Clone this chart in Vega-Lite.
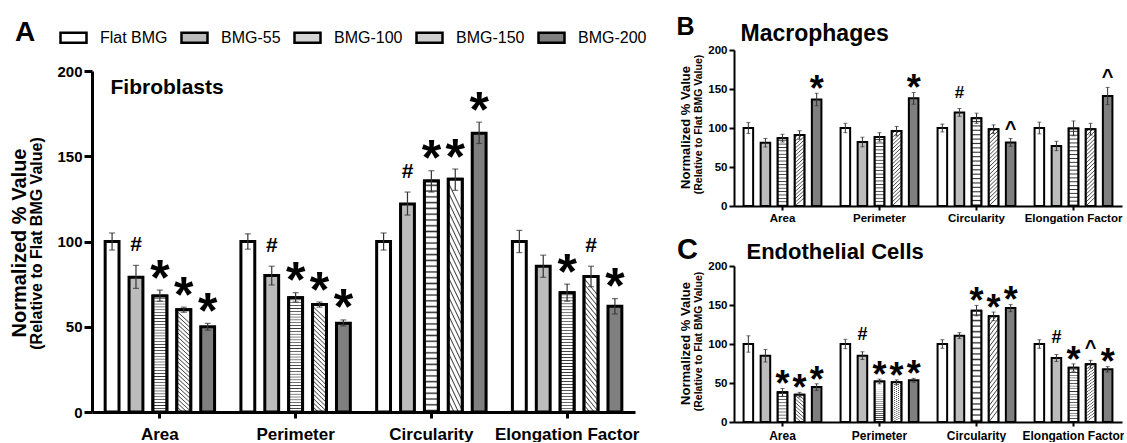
{
"$schema": "https://vega.github.io/schema/vega-lite/v6.json",
"padding": {"left": 9, "top": 14, "right": 0, "bottom": 0},
"background": "white",
"config": {"view": {"stroke": null}, "font": "Liberation Sans", "axis": {"labelFont": "Liberation Sans", "titleFont": "Liberation Sans", "grid": false}},
"datasets": {"d": [
{"p":"A","g":"Area","s":"Flat BMG","v":100,"lo":95,"hi":105,"sig":""},
{"p":"A","g":"Area","s":"BMG-55","v":79,"lo":72.5,"hi":86,"sig":"#"},
{"p":"A","g":"Area","s":"BMG-100","v":68,"lo":65,"hi":71.5,"sig":"*"},
{"p":"A","g":"Area","s":"BMG-150","v":60,"lo":58.5,"hi":61.5,"sig":"*"},
{"p":"A","g":"Area","s":"BMG-200","v":50,"lo":48,"hi":52,"sig":"*"},
{"p":"A","g":"Perimeter","s":"Flat BMG","v":100,"lo":95.5,"hi":104.5,"sig":""},
{"p":"A","g":"Perimeter","s":"BMG-55","v":80,"lo":74.5,"hi":85.5,"sig":"#"},
{"p":"A","g":"Perimeter","s":"BMG-100","v":67,"lo":64.5,"hi":70,"sig":"*"},
{"p":"A","g":"Perimeter","s":"BMG-150","v":63,"lo":61.5,"hi":64.5,"sig":"*"},
{"p":"A","g":"Perimeter","s":"BMG-200","v":52,"lo":50.5,"hi":54,"sig":"*"},
{"p":"A","g":"Circularity","s":"Flat BMG","v":100,"lo":95,"hi":105,"sig":""},
{"p":"A","g":"Circularity","s":"BMG-55","v":122,"lo":115.5,"hi":129,"sig":"#"},
{"p":"A","g":"Circularity","s":"BMG-100","v":135.5,"lo":129,"hi":141.5,"sig":"*"},
{"p":"A","g":"Circularity","s":"BMG-150","v":136.5,"lo":130,"hi":142.5,"sig":"*"},
{"p":"A","g":"Circularity","s":"BMG-200","v":163.5,"lo":157.5,"hi":170,"sig":"*"},
{"p":"A","g":"Elongation Factor","s":"Flat BMG","v":100,"lo":93.5,"hi":106.5,"sig":""},
{"p":"A","g":"Elongation Factor","s":"BMG-55","v":85.5,"lo":79,"hi":92,"sig":""},
{"p":"A","g":"Elongation Factor","s":"BMG-100","v":70,"lo":65,"hi":75,"sig":"*"},
{"p":"A","g":"Elongation Factor","s":"BMG-150","v":79.5,"lo":73.5,"hi":85.5,"sig":"#"},
{"p":"A","g":"Elongation Factor","s":"BMG-200","v":62,"lo":57.5,"hi":66.5,"sig":"*"},
{"p":"B","g":"Area","s":"Flat BMG","v":100,"lo":93,"hi":107,"sig":""},
{"p":"B","g":"Area","s":"BMG-55","v":81,"lo":75.5,"hi":86.5,"sig":""},
{"p":"B","g":"Area","s":"BMG-100","v":87,"lo":82,"hi":92,"sig":""},
{"p":"B","g":"Area","s":"BMG-150","v":91,"lo":85.5,"hi":96.5,"sig":""},
{"p":"B","g":"Area","s":"BMG-200","v":136.5,"lo":128.5,"hi":144.5,"sig":"*"},
{"p":"B","g":"Perimeter","s":"Flat BMG","v":100,"lo":94,"hi":106,"sig":""},
{"p":"B","g":"Perimeter","s":"BMG-55","v":82,"lo":76,"hi":88,"sig":""},
{"p":"B","g":"Perimeter","s":"BMG-100","v":88.5,"lo":83,"hi":94,"sig":""},
{"p":"B","g":"Perimeter","s":"BMG-150","v":96,"lo":90,"hi":102,"sig":""},
{"p":"B","g":"Perimeter","s":"BMG-200","v":138,"lo":130.5,"hi":145.5,"sig":"*"},
{"p":"B","g":"Circularity","s":"Flat BMG","v":100,"lo":95,"hi":105,"sig":""},
{"p":"B","g":"Circularity","s":"BMG-55","v":120,"lo":115,"hi":125,"sig":"#"},
{"p":"B","g":"Circularity","s":"BMG-100","v":112.5,"lo":106,"hi":119,"sig":""},
{"p":"B","g":"Circularity","s":"BMG-150","v":98.5,"lo":93,"hi":104,"sig":""},
{"p":"B","g":"Circularity","s":"BMG-200","v":81.5,"lo":76.5,"hi":86.5,"sig":"^"},
{"p":"B","g":"Elongation Factor","s":"Flat BMG","v":100,"lo":92.5,"hi":107.5,"sig":""},
{"p":"B","g":"Elongation Factor","s":"BMG-55","v":77,"lo":71,"hi":83,"sig":""},
{"p":"B","g":"Elongation Factor","s":"BMG-100","v":99.5,"lo":90,"hi":109,"sig":""},
{"p":"B","g":"Elongation Factor","s":"BMG-150","v":98.5,"lo":91,"hi":106,"sig":""},
{"p":"B","g":"Elongation Factor","s":"BMG-200","v":141,"lo":130,"hi":152,"sig":"^"},
{"p":"C","g":"Area","s":"Flat BMG","v":100,"lo":89.5,"hi":110.5,"sig":""},
{"p":"C","g":"Area","s":"BMG-55","v":85,"lo":77,"hi":93,"sig":""},
{"p":"C","g":"Area","s":"BMG-100","v":38,"lo":33,"hi":43,"sig":"*"},
{"p":"C","g":"Area","s":"BMG-150","v":35,"lo":32,"hi":38,"sig":"*"},
{"p":"C","g":"Area","s":"BMG-200","v":45,"lo":40.5,"hi":49,"sig":"*"},
{"p":"C","g":"Perimeter","s":"Flat BMG","v":100,"lo":94,"hi":106,"sig":""},
{"p":"C","g":"Perimeter","s":"BMG-55","v":85,"lo":80,"hi":90,"sig":"#"},
{"p":"C","g":"Perimeter","s":"BMG-100","v":52,"lo":49,"hi":55,"sig":"*"},
{"p":"C","g":"Perimeter","s":"BMG-150","v":51,"lo":48,"hi":54,"sig":"*"},
{"p":"C","g":"Perimeter","s":"BMG-200","v":53.5,"lo":51,"hi":56,"sig":"*"},
{"p":"C","g":"Circularity","s":"Flat BMG","v":100,"lo":94.5,"hi":105.5,"sig":""},
{"p":"C","g":"Circularity","s":"BMG-55","v":110.5,"lo":107,"hi":114.5,"sig":""},
{"p":"C","g":"Circularity","s":"BMG-100","v":142.5,"lo":136,"hi":149.5,"sig":"*"},
{"p":"C","g":"Circularity","s":"BMG-150","v":135.5,"lo":130,"hi":141,"sig":"*"},
{"p":"C","g":"Circularity","s":"BMG-200","v":146,"lo":141.5,"hi":150.5,"sig":"*"},
{"p":"C","g":"Elongation Factor","s":"Flat BMG","v":100,"lo":94.5,"hi":105.5,"sig":""},
{"p":"C","g":"Elongation Factor","s":"BMG-55","v":82,"lo":77.5,"hi":86.5,"sig":"#"},
{"p":"C","g":"Elongation Factor","s":"BMG-100","v":69.5,"lo":65,"hi":74.5,"sig":"*"},
{"p":"C","g":"Elongation Factor","s":"BMG-150","v":74,"lo":69,"hi":79,"sig":"^"},
{"p":"C","g":"Elongation Factor","s":"BMG-200","v":67.5,"lo":64,"hi":71,"sig":"*"}
]},
"bounds": "flush",
"spacing": 99,
"resolve": {"scale": {"fill": "independent", "xOffset": "independent"}, "legend": {"fill": "independent"}},
"hconcat": [
{
"width": 543, "height": 362,
"data": {"name": "d"},
"transform": [{"filter": "datum.p === 'A'"}],
"resolve": {"axis": {"y": "independent"}},
"layer": [
{"mark": {"type": "bar", "stroke": "black", "strokeWidth": 3},
 "encoding": {
  "x": {"field": "g", "type": "nominal", "title": null, "scale": {"domain": ["Area","Perimeter","Circularity","Elongation Factor"], "paddingInner": 0.12, "paddingOuter": 0.06}, "axis": {"labelAngle": 0, "labelFontSize": 17, "labelFontWeight": "bold", "labelColor": "black", "labelPadding": 8, "tickSize": 6, "tickWidth": 3, "tickColor": "black", "domainWidth": 3, "domainColor": "black"}},
  "xOffset": {"field": "s", "type": "nominal", "scale": {"domain": ["Flat BMG","BMG-55","BMG-100","BMG-150","BMG-200"], "paddingInner": 0.42, "paddingOuter": 0.21}},
  "y": {"field": "v", "type": "quantitative", "scale": {"domain": [0, 200], "range": [362, 21], "nice": false}, "axis": {"values": [0,50,100,150,200], "title": "(Relative to Flat  BMG Value)", "titleFontSize": 16, "titleFontWeight": "bold", "titleColor": "black", "titleX": -56, "titleY": 193, "titleAngle": -90, "titleAlign": "center", "titleBaseline": "middle", "labelFontSize": 15, "labelFontWeight": "bold", "labelColor": "black", "labelPadding": 2, "tickSize": 8, "tickWidth": 3, "tickColor": "black", "domainWidth": 3, "domainColor": "black"}},
  "fill": {"field": "s", "type": "nominal", "scale": {"domain": ["Flat BMG","BMG-55","BMG-100","BMG-150","BMG-200"], "range": ["#ffffff","#bcbcbc","#d4d4d4","#d0d0d0","#7f7f7f"]},
   "legend": {"orient": "none", "legendX": -33, "legendY": -27, "direction": "horizontal", "title": null, "symbolType": "M-1,-0.385H1V0.385H-1Z", "symbolSize": 676, "symbolStrokeColor": "black", "symbolStrokeWidth": 2.5, "symbolOpacity": 1, "labelFontSize": 16, "labelColor": "black", "labelFont": "Liberation Sans", "labelOffset": 12, "columnPadding": 8, "padding": 0}}
 }},
{"transform": [{"filter": "datum.s === 'BMG-100'"}],
 "mark": {"type": "bar", "stroke": "black", "strokeWidth": 3, "fill": {"gradient": "linear", "x1": 0, "y1": 0, "x2": 0, "y2": 1, "stops": [
{"offset":0,"color":"#fff"},{"offset":0.0125,"color":"#fff"},{"offset":0.01875,"color":"#333"},
{"offset":0.025,"color":"#fff"},{"offset":0.0375,"color":"#fff"},{"offset":0.04375,"color":"#333"},
{"offset":0.05,"color":"#fff"},{"offset":0.0625,"color":"#fff"},{"offset":0.06875,"color":"#333"},
{"offset":0.075,"color":"#fff"},{"offset":0.0875,"color":"#fff"},{"offset":0.09375,"color":"#333"},
{"offset":0.1,"color":"#fff"},{"offset":0.1125,"color":"#fff"},{"offset":0.11875,"color":"#333"},
{"offset":0.125,"color":"#fff"},{"offset":0.1375,"color":"#fff"},{"offset":0.14375,"color":"#333"},
{"offset":0.15,"color":"#fff"},{"offset":0.1625,"color":"#fff"},{"offset":0.16875,"color":"#333"},
{"offset":0.175,"color":"#fff"},{"offset":0.1875,"color":"#fff"},{"offset":0.19375,"color":"#333"},
{"offset":0.2,"color":"#fff"},{"offset":0.2125,"color":"#fff"},{"offset":0.21875,"color":"#333"},
{"offset":0.225,"color":"#fff"},{"offset":0.2375,"color":"#fff"},{"offset":0.24375,"color":"#333"},
{"offset":0.25,"color":"#fff"},{"offset":0.2625,"color":"#fff"},{"offset":0.26875,"color":"#333"},
{"offset":0.275,"color":"#fff"},{"offset":0.2875,"color":"#fff"},{"offset":0.29375,"color":"#333"},
{"offset":0.3,"color":"#fff"},{"offset":0.3125,"color":"#fff"},{"offset":0.31875,"color":"#333"},
{"offset":0.325,"color":"#fff"},{"offset":0.3375,"color":"#fff"},{"offset":0.34375,"color":"#333"},
{"offset":0.35,"color":"#fff"},{"offset":0.3625,"color":"#fff"},{"offset":0.36875,"color":"#333"},
{"offset":0.375,"color":"#fff"},{"offset":0.3875,"color":"#fff"},{"offset":0.39375,"color":"#333"},
{"offset":0.4,"color":"#fff"},{"offset":0.4125,"color":"#fff"},{"offset":0.41875,"color":"#333"},
{"offset":0.425,"color":"#fff"},{"offset":0.4375,"color":"#fff"},{"offset":0.44375,"color":"#333"},
{"offset":0.45,"color":"#fff"},{"offset":0.4625,"color":"#fff"},{"offset":0.46875,"color":"#333"},
{"offset":0.475,"color":"#fff"},{"offset":0.4875,"color":"#fff"},{"offset":0.49375,"color":"#333"},
{"offset":0.5,"color":"#fff"},{"offset":0.5125,"color":"#fff"},{"offset":0.51875,"color":"#333"},
{"offset":0.525,"color":"#fff"},{"offset":0.5375,"color":"#fff"},{"offset":0.54375,"color":"#333"},
{"offset":0.55,"color":"#fff"},{"offset":0.5625,"color":"#fff"},{"offset":0.56875,"color":"#333"},
{"offset":0.575,"color":"#fff"},{"offset":0.5875,"color":"#fff"},{"offset":0.59375,"color":"#333"},
{"offset":0.6,"color":"#fff"},{"offset":0.6125,"color":"#fff"},{"offset":0.61875,"color":"#333"},
{"offset":0.625,"color":"#fff"},{"offset":0.6375,"color":"#fff"},{"offset":0.64375,"color":"#333"},
{"offset":0.65,"color":"#fff"},{"offset":0.6625,"color":"#fff"},{"offset":0.66875,"color":"#333"},
{"offset":0.675,"color":"#fff"},{"offset":0.6875,"color":"#fff"},{"offset":0.69375,"color":"#333"},
{"offset":0.7,"color":"#fff"},{"offset":0.7125,"color":"#fff"},{"offset":0.71875,"color":"#333"},
{"offset":0.725,"color":"#fff"},{"offset":0.7375,"color":"#fff"},{"offset":0.74375,"color":"#333"},
{"offset":0.75,"color":"#fff"},{"offset":0.7625,"color":"#fff"},{"offset":0.76875,"color":"#333"},
{"offset":0.775,"color":"#fff"},{"offset":0.7875,"color":"#fff"},{"offset":0.79375,"color":"#333"},
{"offset":0.8,"color":"#fff"},{"offset":0.8125,"color":"#fff"},{"offset":0.81875,"color":"#333"},
{"offset":0.825,"color":"#fff"},{"offset":0.8375,"color":"#fff"},{"offset":0.84375,"color":"#333"},
{"offset":0.85,"color":"#fff"},{"offset":0.8625,"color":"#fff"},{"offset":0.86875,"color":"#333"},
{"offset":0.875,"color":"#fff"},{"offset":0.8875,"color":"#fff"},{"offset":0.89375,"color":"#333"},
{"offset":0.9,"color":"#fff"},{"offset":0.9125,"color":"#fff"},{"offset":0.91875,"color":"#333"},
{"offset":0.925,"color":"#fff"},{"offset":0.9375,"color":"#fff"},{"offset":0.94375,"color":"#333"},
{"offset":0.95,"color":"#fff"},{"offset":0.9625,"color":"#fff"},{"offset":0.96875,"color":"#333"},
{"offset":0.975,"color":"#fff"},{"offset":0.9875,"color":"#fff"},{"offset":0.99375,"color":"#333"},
{"offset":1,"color":"#fff"}]}},
 "encoding": {
  "x": {"field": "g", "type": "nominal", "title": null, "scale": {"domain": ["Area","Perimeter","Circularity","Elongation Factor"]}},
  "xOffset": {"field": "s", "type": "nominal", "scale": {"domain": ["Flat BMG","BMG-55","BMG-100","BMG-150","BMG-200"]}},
  "y": {"field": "v", "type": "quantitative", "axis": null}
 }},
{"transform": [{"filter": "datum.s === 'BMG-150'"}],
 "mark": {"type": "bar", "stroke": "black", "strokeWidth": 3, "fill": {"gradient": "linear", "x1": 0.125, "y1": 0, "x2": 0, "y2": 1, "stops": [
{"offset":0,"color":"#fff"},{"offset":0.02,"color":"#fff"},{"offset":0.03,"color":"#444"},
{"offset":0.04,"color":"#fff"},{"offset":0.06,"color":"#fff"},{"offset":0.07,"color":"#444"},
{"offset":0.08,"color":"#fff"},{"offset":0.1,"color":"#fff"},{"offset":0.11,"color":"#444"},
{"offset":0.12,"color":"#fff"},{"offset":0.14,"color":"#fff"},{"offset":0.15,"color":"#444"},
{"offset":0.16,"color":"#fff"},{"offset":0.18,"color":"#fff"},{"offset":0.19,"color":"#444"},
{"offset":0.2,"color":"#fff"},{"offset":0.22,"color":"#fff"},{"offset":0.23,"color":"#444"},
{"offset":0.24,"color":"#fff"},{"offset":0.26,"color":"#fff"},{"offset":0.27,"color":"#444"},
{"offset":0.28,"color":"#fff"},{"offset":0.3,"color":"#fff"},{"offset":0.31,"color":"#444"},
{"offset":0.32,"color":"#fff"},{"offset":0.34,"color":"#fff"},{"offset":0.35,"color":"#444"},
{"offset":0.36,"color":"#fff"},{"offset":0.38,"color":"#fff"},{"offset":0.39,"color":"#444"},
{"offset":0.4,"color":"#fff"},{"offset":0.42,"color":"#fff"},{"offset":0.43,"color":"#444"},
{"offset":0.44,"color":"#fff"},{"offset":0.46,"color":"#fff"},{"offset":0.47,"color":"#444"},
{"offset":0.48,"color":"#fff"},{"offset":0.5,"color":"#fff"},{"offset":0.51,"color":"#444"},
{"offset":0.52,"color":"#fff"},{"offset":0.54,"color":"#fff"},{"offset":0.55,"color":"#444"},
{"offset":0.56,"color":"#fff"},{"offset":0.58,"color":"#fff"},{"offset":0.59,"color":"#444"},
{"offset":0.6,"color":"#fff"},{"offset":0.62,"color":"#fff"},{"offset":0.63,"color":"#444"},
{"offset":0.64,"color":"#fff"},{"offset":0.66,"color":"#fff"},{"offset":0.67,"color":"#444"},
{"offset":0.68,"color":"#fff"},{"offset":0.7,"color":"#fff"},{"offset":0.71,"color":"#444"},
{"offset":0.72,"color":"#fff"},{"offset":0.74,"color":"#fff"},{"offset":0.75,"color":"#444"},
{"offset":0.76,"color":"#fff"},{"offset":0.78,"color":"#fff"},{"offset":0.79,"color":"#444"},
{"offset":0.8,"color":"#fff"},{"offset":0.82,"color":"#fff"},{"offset":0.83,"color":"#444"},
{"offset":0.84,"color":"#fff"},{"offset":0.86,"color":"#fff"},{"offset":0.87,"color":"#444"},
{"offset":0.88,"color":"#fff"},{"offset":0.9,"color":"#fff"},{"offset":0.91,"color":"#444"},
{"offset":0.92,"color":"#fff"},{"offset":0.94,"color":"#fff"},{"offset":0.95,"color":"#444"},
{"offset":0.96,"color":"#fff"},{"offset":0.98,"color":"#fff"},{"offset":0.99,"color":"#444"},
{"offset":1,"color":"#fff"}]}},
 "encoding": {
  "x": {"field": "g", "type": "nominal", "title": null, "scale": {"domain": ["Area","Perimeter","Circularity","Elongation Factor"]}},
  "xOffset": {"field": "s", "type": "nominal", "scale": {"domain": ["Flat BMG","BMG-55","BMG-100","BMG-150","BMG-200"]}},
  "y": {"field": "v", "type": "quantitative", "axis": null}
 }},
{"mark": {"type": "rule", "color": "#333", "strokeWidth": 1.2},
 "encoding": {
  "x": {"field": "g", "type": "nominal", "title": null, "scale": {"domain": ["Area","Perimeter","Circularity","Elongation Factor"]}},
  "xOffset": {"field": "s", "type": "nominal", "scale": {"domain": ["Flat BMG","BMG-55","BMG-100","BMG-150","BMG-200"]}},
  "y": {"field": "lo", "type": "quantitative", "axis": {"orient": "left", "title": "Fibroblasts", "labels": false, "ticks": false, "domain": false, "titleFontSize": 21, "titleFontWeight": "bold", "titleColor": "black", "titleX": 18, "titleY": 43, "titleAngle": 0, "titleAlign": "left", "titleBaseline": "alphabetic"}},
  "y2": {"field": "hi"}
 }},
{"mark": {"type": "tick", "color": "#333", "thickness": 1.2, "size": 6},
 "encoding": {
  "x": {"field": "g", "type": "nominal", "title": null, "scale": {"domain": ["Area","Perimeter","Circularity","Elongation Factor"]}},
  "xOffset": {"field": "s", "type": "nominal", "scale": {"domain": ["Flat BMG","BMG-55","BMG-100","BMG-150","BMG-200"]}},
  "y": {"field": "lo", "type": "quantitative", "axis": {"orient": "left", "title": "Normalized % Value", "labels": false, "ticks": false, "domain": false, "titleFontSize": 20, "titleFontWeight": "bold", "titleColor": "black", "titleX": -73, "titleY": 192.5, "titleAngle": -90, "titleAlign": "center", "titleBaseline": "middle"}}
 }},
{"mark": {"type": "tick", "color": "#333", "thickness": 1.2, "size": 6},
 "encoding": {
  "x": {"field": "g", "type": "nominal", "title": null, "scale": {"domain": ["Area","Perimeter","Circularity","Elongation Factor"]}},
  "xOffset": {"field": "s", "type": "nominal", "scale": {"domain": ["Flat BMG","BMG-55","BMG-100","BMG-150","BMG-200"]}},
  "y": {"field": "hi", "type": "quantitative", "axis": {"orient": "left", "title": "A", "labels": false, "ticks": false, "domain": false, "titleFontSize": 28, "titleFontWeight": "bold", "titleColor": "black", "titleX": -67.5, "titleY": -10, "titleAngle": 0, "titleAlign": "center", "titleBaseline": "alphabetic"}}
 }},
{"transform": [{"filter": "datum.sig === '*'"}],
 "mark": {"type": "text", "fontSize": 50, "fontWeight": "bold", "font": "Liberation Sans", "baseline": "alphabetic", "align": "center", "dy": 4.5, "color": "black"},
 "encoding": {
  "x": {"field": "g", "type": "nominal", "title": null, "scale": {"domain": ["Area","Perimeter","Circularity","Elongation Factor"]}},
  "xOffset": {"field": "s", "type": "nominal", "scale": {"domain": ["Flat BMG","BMG-55","BMG-100","BMG-150","BMG-200"]}},
  "y": {"field": "hi", "type": "quantitative", "axis": null},
  "text": {"field": "sig", "type": "nominal"}
 }},
{"transform": [{"filter": "datum.sig === '#'"}],
 "mark": {"type": "text", "fontSize": 21, "fontWeight": "bold", "font": "Liberation Sans", "baseline": "alphabetic", "align": "center", "dy": -14, "color": "black"},
 "encoding": {
  "x": {"field": "g", "type": "nominal", "title": null, "scale": {"domain": ["Area","Perimeter","Circularity","Elongation Factor"]}},
  "xOffset": {"field": "s", "type": "nominal", "scale": {"domain": ["Flat BMG","BMG-55","BMG-100","BMG-150","BMG-200"]}},
  "y": {"field": "hi", "type": "quantitative", "axis": null},
  "text": {"field": "sig", "type": "nominal"}
 }}
]
},
{
"vconcat": [
{
"width": 388, "height": 156,
"data": {"name": "d"},
"transform": [{"filter": "datum.p === 'B'"}],
"resolve": {"axis": {"y": "independent"}},
"layer": [
{"mark": {"type": "bar", "stroke": "black", "strokeWidth": 2},
 "encoding": {
  "x": {"field": "g", "type": "nominal", "title": null, "scale": {"domain": ["Area","Perimeter","Circularity","Elongation Factor"], "paddingInner": 0.12, "paddingOuter": 0.06}, "axis": {"labelAngle": 0, "labelFontSize": 11.5, "labelFontWeight": "bold", "labelColor": "black", "labelPadding": 2, "tickSize": 4, "tickWidth": 2, "tickColor": "black", "domainWidth": 2, "domainColor": "black"}},
  "xOffset": {"field": "s", "type": "nominal", "scale": {"domain": ["Flat BMG","BMG-55","BMG-100","BMG-150","BMG-200"], "paddingInner": 0.44, "paddingOuter": 0.22}},
  "y": {"field": "v", "type": "quantitative", "scale": {"domain": [0, 200], "nice": false}, "axis": {"values": [0,50,100,150,200], "title": "(Relative to Flat BMG Value)", "titleFontSize": 10.5, "titleFontWeight": "bold", "titleColor": "black", "titleX": -36, "titleY": 74, "titleAngle": -90, "titleAlign": "center", "titleBaseline": "middle", "labelFontSize": 11.5, "labelFontWeight": "bold", "labelColor": "black", "labelPadding": 2, "tickSize": 5, "tickWidth": 2, "tickColor": "black", "domainWidth": 2, "domainColor": "black"}},
  "fill": {"field": "s", "type": "nominal", "scale": {"domain": ["Flat BMG","BMG-55","BMG-100","BMG-150","BMG-200"], "range": ["#ffffff","#bcbcbc","#d4d4d4","#d0d0d0","#7f7f7f"]}, "legend": null}
 }},
{"transform": [{"filter": "datum.s === 'BMG-100'"}],
 "mark": {"type": "bar", "stroke": "black", "strokeWidth": 2, "fill": {"gradient": "linear", "x1": 0, "y1": 0, "x2": 0, "y2": 1, "stops": [
{"offset":0,"color":"#fff"},{"offset":0.025,"color":"#fff"},{"offset":0.0375,"color":"#333"},
{"offset":0.05,"color":"#fff"},{"offset":0.075,"color":"#fff"},{"offset":0.0875,"color":"#333"},
{"offset":0.1,"color":"#fff"},{"offset":0.125,"color":"#fff"},{"offset":0.1375,"color":"#333"},
{"offset":0.15,"color":"#fff"},{"offset":0.175,"color":"#fff"},{"offset":0.1875,"color":"#333"},
{"offset":0.2,"color":"#fff"},{"offset":0.225,"color":"#fff"},{"offset":0.2375,"color":"#333"},
{"offset":0.25,"color":"#fff"},{"offset":0.275,"color":"#fff"},{"offset":0.2875,"color":"#333"},
{"offset":0.3,"color":"#fff"},{"offset":0.325,"color":"#fff"},{"offset":0.3375,"color":"#333"},
{"offset":0.35,"color":"#fff"},{"offset":0.375,"color":"#fff"},{"offset":0.3875,"color":"#333"},
{"offset":0.4,"color":"#fff"},{"offset":0.425,"color":"#fff"},{"offset":0.4375,"color":"#333"},
{"offset":0.45,"color":"#fff"},{"offset":0.475,"color":"#fff"},{"offset":0.4875,"color":"#333"},
{"offset":0.5,"color":"#fff"},{"offset":0.525,"color":"#fff"},{"offset":0.5375,"color":"#333"},
{"offset":0.55,"color":"#fff"},{"offset":0.575,"color":"#fff"},{"offset":0.5875,"color":"#333"},
{"offset":0.6,"color":"#fff"},{"offset":0.625,"color":"#fff"},{"offset":0.6375,"color":"#333"},
{"offset":0.65,"color":"#fff"},{"offset":0.675,"color":"#fff"},{"offset":0.6875,"color":"#333"},
{"offset":0.7,"color":"#fff"},{"offset":0.725,"color":"#fff"},{"offset":0.7375,"color":"#333"},
{"offset":0.75,"color":"#fff"},{"offset":0.775,"color":"#fff"},{"offset":0.7875,"color":"#333"},
{"offset":0.8,"color":"#fff"},{"offset":0.825,"color":"#fff"},{"offset":0.8375,"color":"#333"},
{"offset":0.85,"color":"#fff"},{"offset":0.875,"color":"#fff"},{"offset":0.8875,"color":"#333"},
{"offset":0.9,"color":"#fff"},{"offset":0.925,"color":"#fff"},{"offset":0.9375,"color":"#333"},
{"offset":0.95,"color":"#fff"},{"offset":0.975,"color":"#fff"},{"offset":0.9875,"color":"#333"},
{"offset":1,"color":"#fff"}]}},
 "encoding": {
  "x": {"field": "g", "type": "nominal", "title": null, "scale": {"domain": ["Area","Perimeter","Circularity","Elongation Factor"]}},
  "xOffset": {"field": "s", "type": "nominal", "scale": {"domain": ["Flat BMG","BMG-55","BMG-100","BMG-150","BMG-200"]}},
  "y": {"field": "v", "type": "quantitative", "axis": null}
 }},
{"transform": [{"filter": "datum.s === 'BMG-150'"}],
 "mark": {"type": "bar", "stroke": "black", "strokeWidth": 2, "fill": {"gradient": "linear", "x1": 0, "y1": 0, "x2": 0.12, "y2": 1, "stops": [
{"offset":0,"color":"#fff"},{"offset":0.025,"color":"#fff"},{"offset":0.0375,"color":"#444"},
{"offset":0.05,"color":"#fff"},{"offset":0.075,"color":"#fff"},{"offset":0.0875,"color":"#444"},
{"offset":0.1,"color":"#fff"},{"offset":0.125,"color":"#fff"},{"offset":0.1375,"color":"#444"},
{"offset":0.15,"color":"#fff"},{"offset":0.175,"color":"#fff"},{"offset":0.1875,"color":"#444"},
{"offset":0.2,"color":"#fff"},{"offset":0.225,"color":"#fff"},{"offset":0.2375,"color":"#444"},
{"offset":0.25,"color":"#fff"},{"offset":0.275,"color":"#fff"},{"offset":0.2875,"color":"#444"},
{"offset":0.3,"color":"#fff"},{"offset":0.325,"color":"#fff"},{"offset":0.3375,"color":"#444"},
{"offset":0.35,"color":"#fff"},{"offset":0.375,"color":"#fff"},{"offset":0.3875,"color":"#444"},
{"offset":0.4,"color":"#fff"},{"offset":0.425,"color":"#fff"},{"offset":0.4375,"color":"#444"},
{"offset":0.45,"color":"#fff"},{"offset":0.475,"color":"#fff"},{"offset":0.4875,"color":"#444"},
{"offset":0.5,"color":"#fff"},{"offset":0.525,"color":"#fff"},{"offset":0.5375,"color":"#444"},
{"offset":0.55,"color":"#fff"},{"offset":0.575,"color":"#fff"},{"offset":0.5875,"color":"#444"},
{"offset":0.6,"color":"#fff"},{"offset":0.625,"color":"#fff"},{"offset":0.6375,"color":"#444"},
{"offset":0.65,"color":"#fff"},{"offset":0.675,"color":"#fff"},{"offset":0.6875,"color":"#444"},
{"offset":0.7,"color":"#fff"},{"offset":0.725,"color":"#fff"},{"offset":0.7375,"color":"#444"},
{"offset":0.75,"color":"#fff"},{"offset":0.775,"color":"#fff"},{"offset":0.7875,"color":"#444"},
{"offset":0.8,"color":"#fff"},{"offset":0.825,"color":"#fff"},{"offset":0.8375,"color":"#444"},
{"offset":0.85,"color":"#fff"},{"offset":0.875,"color":"#fff"},{"offset":0.8875,"color":"#444"},
{"offset":0.9,"color":"#fff"},{"offset":0.925,"color":"#fff"},{"offset":0.9375,"color":"#444"},
{"offset":0.95,"color":"#fff"},{"offset":0.975,"color":"#fff"},{"offset":0.9875,"color":"#444"},
{"offset":1,"color":"#fff"}]}},
 "encoding": {
  "x": {"field": "g", "type": "nominal", "title": null, "scale": {"domain": ["Area","Perimeter","Circularity","Elongation Factor"]}},
  "xOffset": {"field": "s", "type": "nominal", "scale": {"domain": ["Flat BMG","BMG-55","BMG-100","BMG-150","BMG-200"]}},
  "y": {"field": "v", "type": "quantitative", "axis": null}
 }},
{"mark": {"type": "rule", "color": "#333", "strokeWidth": 1},
 "encoding": {
  "x": {"field": "g", "type": "nominal", "title": null, "scale": {"domain": ["Area","Perimeter","Circularity","Elongation Factor"]}},
  "xOffset": {"field": "s", "type": "nominal", "scale": {"domain": ["Flat BMG","BMG-55","BMG-100","BMG-150","BMG-200"]}},
  "y": {"field": "lo", "type": "quantitative", "axis": {"orient": "left", "title": "Macrophages", "labels": false, "ticks": false, "domain": false, "titleFontSize": 23, "titleFontWeight": "bold", "titleColor": "black", "titleX": 6, "titleY": -10, "titleAngle": 0, "titleAlign": "left", "titleBaseline": "alphabetic"}},
  "y2": {"field": "hi"}
 }},
{"mark": {"type": "tick", "color": "#333", "thickness": 1, "size": 4},
 "encoding": {
  "x": {"field": "g", "type": "nominal", "title": null, "scale": {"domain": ["Area","Perimeter","Circularity","Elongation Factor"]}},
  "xOffset": {"field": "s", "type": "nominal", "scale": {"domain": ["Flat BMG","BMG-55","BMG-100","BMG-150","BMG-200"]}},
  "y": {"field": "lo", "type": "quantitative", "axis": {"orient": "left", "title": "Normalized % Value", "labels": false, "ticks": false, "domain": false, "titleFontSize": 13, "titleFontWeight": "bold", "titleColor": "black", "titleX": -49, "titleY": 77, "titleAngle": -90, "titleAlign": "center", "titleBaseline": "middle"}}
 }},
{"mark": {"type": "tick", "color": "#333", "thickness": 1, "size": 4},
 "encoding": {
  "x": {"field": "g", "type": "nominal", "title": null, "scale": {"domain": ["Area","Perimeter","Circularity","Elongation Factor"]}},
  "xOffset": {"field": "s", "type": "nominal", "scale": {"domain": ["Flat BMG","BMG-55","BMG-100","BMG-150","BMG-200"]}},
  "y": {"field": "hi", "type": "quantitative", "axis": {"orient": "left", "title": "B", "labels": false, "ticks": false, "domain": false, "titleFontSize": 25, "titleFontWeight": "bold", "titleColor": "black", "titleX": -49, "titleY": -16, "titleAngle": 0, "titleAlign": "center", "titleBaseline": "alphabetic"}}
 }},
{"transform": [{"filter": "datum.sig === '*'"}],
 "mark": {"type": "text", "fontSize": 36, "fontWeight": "bold", "font": "Liberation Sans", "baseline": "alphabetic", "align": "center", "dy": 7.8, "color": "black"},
 "encoding": {
  "x": {"field": "g", "type": "nominal", "title": null, "scale": {"domain": ["Area","Perimeter","Circularity","Elongation Factor"]}},
  "xOffset": {"field": "s", "type": "nominal", "scale": {"domain": ["Flat BMG","BMG-55","BMG-100","BMG-150","BMG-200"]}},
  "y": {"field": "hi", "type": "quantitative", "axis": null},
  "text": {"field": "sig", "type": "nominal"}
 }},
{"transform": [{"filter": "datum.sig === '#'"}],
 "mark": {"type": "text", "fontSize": 17, "fontWeight": "bold", "font": "Liberation Sans", "baseline": "alphabetic", "align": "center", "dy": -11, "color": "black"},
 "encoding": {
  "x": {"field": "g", "type": "nominal", "title": null, "scale": {"domain": ["Area","Perimeter","Circularity","Elongation Factor"]}},
  "xOffset": {"field": "s", "type": "nominal", "scale": {"domain": ["Flat BMG","BMG-55","BMG-100","BMG-150","BMG-200"]}},
  "y": {"field": "hi", "type": "quantitative", "axis": null},
  "text": {"field": "sig", "type": "nominal"}
 }},
{"transform": [{"filter": "datum.sig === '^'"}],
 "mark": {"type": "text", "fontSize": 20, "fontWeight": "bold", "font": "Liberation Sans", "baseline": "alphabetic", "align": "center", "dy": -4, "color": "black"},
 "encoding": {
  "x": {"field": "g", "type": "nominal", "title": null, "scale": {"domain": ["Area","Perimeter","Circularity","Elongation Factor"]}},
  "xOffset": {"field": "s", "type": "nominal", "scale": {"domain": ["Flat BMG","BMG-55","BMG-100","BMG-150","BMG-200"]}},
  "y": {"field": "hi", "type": "quantitative", "axis": null},
  "text": {"field": "sig", "type": "nominal"}
 }}
]
},
{
"width": 388, "height": 156,
"data": {"name": "d"},
"transform": [{"filter": "datum.p === 'C'"}],
"resolve": {"axis": {"y": "independent"}},
"layer": [
{"mark": {"type": "bar", "stroke": "black", "strokeWidth": 2},
 "encoding": {
  "x": {"field": "g", "type": "nominal", "title": null, "scale": {"domain": ["Area","Perimeter","Circularity","Elongation Factor"], "paddingInner": 0.12, "paddingOuter": 0.06}, "axis": {"labelAngle": 0, "labelFontSize": 12, "labelFontWeight": "bold", "labelColor": "black", "labelPadding": 4, "tickSize": 4, "tickWidth": 2, "tickColor": "black", "domainWidth": 2, "domainColor": "black"}},
  "xOffset": {"field": "s", "type": "nominal", "scale": {"domain": ["Flat BMG","BMG-55","BMG-100","BMG-150","BMG-200"], "paddingInner": 0.44, "paddingOuter": 0.22}},
  "y": {"field": "v", "type": "quantitative", "scale": {"domain": [0, 200], "nice": false}, "axis": {"values": [0,50,100,150,200], "title": "(Relative to Flat BMG Value)", "titleFontSize": 10.5, "titleFontWeight": "bold", "titleColor": "black", "titleX": -36, "titleY": 75, "titleAngle": -90, "titleAlign": "center", "titleBaseline": "middle", "labelFontSize": 11.5, "labelFontWeight": "bold", "labelColor": "black", "labelPadding": 2, "tickSize": 5, "tickWidth": 2, "tickColor": "black", "domainWidth": 2, "domainColor": "black"}},
  "fill": {"field": "s", "type": "nominal", "scale": {"domain": ["Flat BMG","BMG-55","BMG-100","BMG-150","BMG-200"], "range": ["#ffffff","#bcbcbc","#d4d4d4","#d0d0d0","#7f7f7f"]}, "legend": null}
 }},
{"transform": [{"filter": "datum.s === 'BMG-100'"}],
 "mark": {"type": "bar", "stroke": "black", "strokeWidth": 2, "fill": {"gradient": "linear", "x1": 0, "y1": 0, "x2": 0, "y2": 1, "stops": [
{"offset":0,"color":"#fff"},{"offset":0.025,"color":"#fff"},{"offset":0.0375,"color":"#333"},
{"offset":0.05,"color":"#fff"},{"offset":0.075,"color":"#fff"},{"offset":0.0875,"color":"#333"},
{"offset":0.1,"color":"#fff"},{"offset":0.125,"color":"#fff"},{"offset":0.1375,"color":"#333"},
{"offset":0.15,"color":"#fff"},{"offset":0.175,"color":"#fff"},{"offset":0.1875,"color":"#333"},
{"offset":0.2,"color":"#fff"},{"offset":0.225,"color":"#fff"},{"offset":0.2375,"color":"#333"},
{"offset":0.25,"color":"#fff"},{"offset":0.275,"color":"#fff"},{"offset":0.2875,"color":"#333"},
{"offset":0.3,"color":"#fff"},{"offset":0.325,"color":"#fff"},{"offset":0.3375,"color":"#333"},
{"offset":0.35,"color":"#fff"},{"offset":0.375,"color":"#fff"},{"offset":0.3875,"color":"#333"},
{"offset":0.4,"color":"#fff"},{"offset":0.425,"color":"#fff"},{"offset":0.4375,"color":"#333"},
{"offset":0.45,"color":"#fff"},{"offset":0.475,"color":"#fff"},{"offset":0.4875,"color":"#333"},
{"offset":0.5,"color":"#fff"},{"offset":0.525,"color":"#fff"},{"offset":0.5375,"color":"#333"},
{"offset":0.55,"color":"#fff"},{"offset":0.575,"color":"#fff"},{"offset":0.5875,"color":"#333"},
{"offset":0.6,"color":"#fff"},{"offset":0.625,"color":"#fff"},{"offset":0.6375,"color":"#333"},
{"offset":0.65,"color":"#fff"},{"offset":0.675,"color":"#fff"},{"offset":0.6875,"color":"#333"},
{"offset":0.7,"color":"#fff"},{"offset":0.725,"color":"#fff"},{"offset":0.7375,"color":"#333"},
{"offset":0.75,"color":"#fff"},{"offset":0.775,"color":"#fff"},{"offset":0.7875,"color":"#333"},
{"offset":0.8,"color":"#fff"},{"offset":0.825,"color":"#fff"},{"offset":0.8375,"color":"#333"},
{"offset":0.85,"color":"#fff"},{"offset":0.875,"color":"#fff"},{"offset":0.8875,"color":"#333"},
{"offset":0.9,"color":"#fff"},{"offset":0.925,"color":"#fff"},{"offset":0.9375,"color":"#333"},
{"offset":0.95,"color":"#fff"},{"offset":0.975,"color":"#fff"},{"offset":0.9875,"color":"#333"},
{"offset":1,"color":"#fff"}]}},
 "encoding": {
  "x": {"field": "g", "type": "nominal", "title": null, "scale": {"domain": ["Area","Perimeter","Circularity","Elongation Factor"]}},
  "xOffset": {"field": "s", "type": "nominal", "scale": {"domain": ["Flat BMG","BMG-55","BMG-100","BMG-150","BMG-200"]}},
  "y": {"field": "v", "type": "quantitative", "axis": null}
 }},
{"transform": [{"filter": "datum.s === 'BMG-150'"}],
 "mark": {"type": "bar", "stroke": "black", "strokeWidth": 2, "fill": {"gradient": "linear", "x1": 0, "y1": 0, "x2": 0.12, "y2": 1, "stops": [
{"offset":0,"color":"#fff"},{"offset":0.025,"color":"#fff"},{"offset":0.0375,"color":"#444"},
{"offset":0.05,"color":"#fff"},{"offset":0.075,"color":"#fff"},{"offset":0.0875,"color":"#444"},
{"offset":0.1,"color":"#fff"},{"offset":0.125,"color":"#fff"},{"offset":0.1375,"color":"#444"},
{"offset":0.15,"color":"#fff"},{"offset":0.175,"color":"#fff"},{"offset":0.1875,"color":"#444"},
{"offset":0.2,"color":"#fff"},{"offset":0.225,"color":"#fff"},{"offset":0.2375,"color":"#444"},
{"offset":0.25,"color":"#fff"},{"offset":0.275,"color":"#fff"},{"offset":0.2875,"color":"#444"},
{"offset":0.3,"color":"#fff"},{"offset":0.325,"color":"#fff"},{"offset":0.3375,"color":"#444"},
{"offset":0.35,"color":"#fff"},{"offset":0.375,"color":"#fff"},{"offset":0.3875,"color":"#444"},
{"offset":0.4,"color":"#fff"},{"offset":0.425,"color":"#fff"},{"offset":0.4375,"color":"#444"},
{"offset":0.45,"color":"#fff"},{"offset":0.475,"color":"#fff"},{"offset":0.4875,"color":"#444"},
{"offset":0.5,"color":"#fff"},{"offset":0.525,"color":"#fff"},{"offset":0.5375,"color":"#444"},
{"offset":0.55,"color":"#fff"},{"offset":0.575,"color":"#fff"},{"offset":0.5875,"color":"#444"},
{"offset":0.6,"color":"#fff"},{"offset":0.625,"color":"#fff"},{"offset":0.6375,"color":"#444"},
{"offset":0.65,"color":"#fff"},{"offset":0.675,"color":"#fff"},{"offset":0.6875,"color":"#444"},
{"offset":0.7,"color":"#fff"},{"offset":0.725,"color":"#fff"},{"offset":0.7375,"color":"#444"},
{"offset":0.75,"color":"#fff"},{"offset":0.775,"color":"#fff"},{"offset":0.7875,"color":"#444"},
{"offset":0.8,"color":"#fff"},{"offset":0.825,"color":"#fff"},{"offset":0.8375,"color":"#444"},
{"offset":0.85,"color":"#fff"},{"offset":0.875,"color":"#fff"},{"offset":0.8875,"color":"#444"},
{"offset":0.9,"color":"#fff"},{"offset":0.925,"color":"#fff"},{"offset":0.9375,"color":"#444"},
{"offset":0.95,"color":"#fff"},{"offset":0.975,"color":"#fff"},{"offset":0.9875,"color":"#444"},
{"offset":1,"color":"#fff"}]}},
 "encoding": {
  "x": {"field": "g", "type": "nominal", "title": null, "scale": {"domain": ["Area","Perimeter","Circularity","Elongation Factor"]}},
  "xOffset": {"field": "s", "type": "nominal", "scale": {"domain": ["Flat BMG","BMG-55","BMG-100","BMG-150","BMG-200"]}},
  "y": {"field": "v", "type": "quantitative", "axis": null}
 }},
{"mark": {"type": "rule", "color": "#333", "strokeWidth": 1},
 "encoding": {
  "x": {"field": "g", "type": "nominal", "title": null, "scale": {"domain": ["Area","Perimeter","Circularity","Elongation Factor"]}},
  "xOffset": {"field": "s", "type": "nominal", "scale": {"domain": ["Flat BMG","BMG-55","BMG-100","BMG-150","BMG-200"]}},
  "y": {"field": "lo", "type": "quantitative", "axis": {"orient": "left", "title": "Endothelial Cells", "labels": false, "ticks": false, "domain": false, "titleFontSize": 22, "titleFontWeight": "bold", "titleColor": "black", "titleX": 12, "titleY": -8, "titleAngle": 0, "titleAlign": "left", "titleBaseline": "alphabetic"}},
  "y2": {"field": "hi"}
 }},
{"mark": {"type": "tick", "color": "#333", "thickness": 1, "size": 4},
 "encoding": {
  "x": {"field": "g", "type": "nominal", "title": null, "scale": {"domain": ["Area","Perimeter","Circularity","Elongation Factor"]}},
  "xOffset": {"field": "s", "type": "nominal", "scale": {"domain": ["Flat BMG","BMG-55","BMG-100","BMG-150","BMG-200"]}},
  "y": {"field": "lo", "type": "quantitative", "axis": {"orient": "left", "title": "Normalized % Value", "labels": false, "ticks": false, "domain": false, "titleFontSize": 13, "titleFontWeight": "bold", "titleColor": "black", "titleX": -48.5, "titleY": 77, "titleAngle": -90, "titleAlign": "center", "titleBaseline": "middle"}}
 }},
{"mark": {"type": "tick", "color": "#333", "thickness": 1, "size": 4},
 "encoding": {
  "x": {"field": "g", "type": "nominal", "title": null, "scale": {"domain": ["Area","Perimeter","Circularity","Elongation Factor"]}},
  "xOffset": {"field": "s", "type": "nominal", "scale": {"domain": ["Flat BMG","BMG-55","BMG-100","BMG-150","BMG-200"]}},
  "y": {"field": "hi", "type": "quantitative", "axis": {"orient": "left", "title": "C", "labels": false, "ticks": false, "domain": false, "titleFontSize": 29, "titleFontWeight": "bold", "titleColor": "black", "titleX": -47, "titleY": -8, "titleAngle": 0, "titleAlign": "center", "titleBaseline": "alphabetic"}}
 }},
{"transform": [{"filter": "datum.sig === '*'"}],
 "mark": {"type": "text", "fontSize": 36, "fontWeight": "bold", "font": "Liberation Sans", "baseline": "alphabetic", "align": "center", "dy": 7.8, "color": "black"},
 "encoding": {
  "x": {"field": "g", "type": "nominal", "title": null, "scale": {"domain": ["Area","Perimeter","Circularity","Elongation Factor"]}},
  "xOffset": {"field": "s", "type": "nominal", "scale": {"domain": ["Flat BMG","BMG-55","BMG-100","BMG-150","BMG-200"]}},
  "y": {"field": "hi", "type": "quantitative", "axis": null},
  "text": {"field": "sig", "type": "nominal"}
 }},
{"transform": [{"filter": "datum.sig === '#'"}],
 "mark": {"type": "text", "fontSize": 18, "fontWeight": "bold", "font": "Liberation Sans", "baseline": "alphabetic", "align": "center", "dy": -12, "color": "black"},
 "encoding": {
  "x": {"field": "g", "type": "nominal", "title": null, "scale": {"domain": ["Area","Perimeter","Circularity","Elongation Factor"]}},
  "xOffset": {"field": "s", "type": "nominal", "scale": {"domain": ["Flat BMG","BMG-55","BMG-100","BMG-150","BMG-200"]}},
  "y": {"field": "hi", "type": "quantitative", "axis": null},
  "text": {"field": "sig", "type": "nominal"}
 }},
{"transform": [{"filter": "datum.sig === '^'"}],
 "mark": {"type": "text", "fontSize": 20, "fontWeight": "bold", "font": "Liberation Sans", "baseline": "alphabetic", "align": "center", "dy": -6, "color": "black"},
 "encoding": {
  "x": {"field": "g", "type": "nominal", "title": null, "scale": {"domain": ["Area","Perimeter","Circularity","Elongation Factor"]}},
  "xOffset": {"field": "s", "type": "nominal", "scale": {"domain": ["Flat BMG","BMG-55","BMG-100","BMG-150","BMG-200"]}},
  "y": {"field": "hi", "type": "quantitative", "axis": null},
  "text": {"field": "sig", "type": "nominal"}
 }}
]
}
],
"spacing": 60,
"bounds": "flush",
"resolve": {"scale": {"fill": "independent", "xOffset": "independent"}, "legend": {"fill": "independent"}}
}
]
}
